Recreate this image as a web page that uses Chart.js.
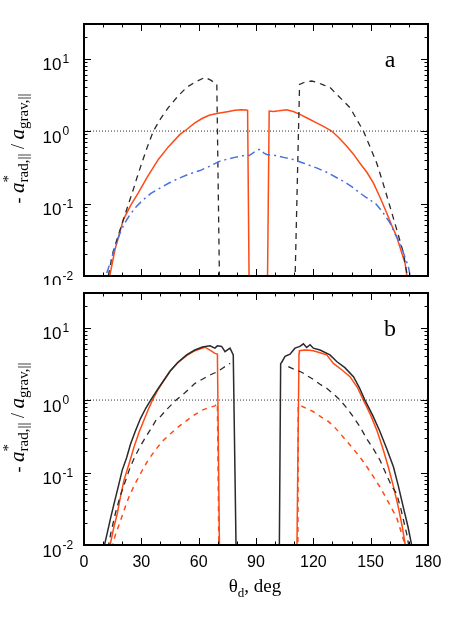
<!DOCTYPE html>
<html>
<head>
<meta charset="utf-8">
<script src="https://cdn.jsdelivr.net/npm/chart.js@4.4.1/dist/chart.umd.min.js"></script>
<style>
  html, body { margin: 0; padding: 0; background: #fff; }
  #wrapA { position: absolute; left: 0; top: 0; width: 452px; height: 285px; }
  #wrapB { position: absolute; left: 0; top: 285px; width: 452px; height: 348px; }
</style>
</head>
<body>
<div id="wrapA"><canvas id="panelA"></canvas></div>
<div id="wrapB"><canvas id="panelB"></canvas></div>
<script>
// axes
const xTicks = [0, 30, 60, 90, 120, 150, 180];
const yTicks = [0.01, 0.1, 1, 10];
const refX = [0, 180];
const refY = [1, 1];

// panel a: black dashed (two branches)
const aDashLeftX = [12.7, 14, 15.3, 18, 20.6, 23.2, 25.8, 28, 30.2, 33.3, 36.3, 40.2, 44.1, 49, 53.7, 58.5, 63.3, 66.5, 69.5, 70.9];
const aDashLeftY = [0.01, 0.015, 0.022, 0.037, 0.06, 0.097, 0.156, 0.24, 0.36, 0.62, 1.0, 1.5, 2.1, 3.0, 4.0, 4.8, 5.5, 5.0, 4.4, 0.008];
const aDashRightX = [110.4, 112.8, 116, 119.1, 122, 125.5, 128.7, 133.1, 139.2, 146.2, 149.5, 153.2, 156.5, 160.1, 163.6, 167.1, 169.2, 170];
const aDashRightY = [0.008, 4.4, 4.8, 4.9, 4.7, 4.3, 4.0, 3.05, 2.1, 1.0, 0.62, 0.36, 0.19, 0.091, 0.044, 0.021, 0.01, 0.008];

// panel a: red solid (two branches)
const aRedLeftX = [13.1, 16.2, 20.6, 24.5, 28.4, 33, 38.9, 44, 50.2, 53.7, 58, 62, 65.5, 67.7, 71, 75, 79, 82, 85, 85.6, 86.4];
const aRedLeftY = [0.009, 0.023, 0.06, 0.095, 0.14, 0.23, 0.406, 0.6, 0.9, 1.05, 1.3, 1.5, 1.65, 1.7, 1.78, 1.85, 1.93, 1.97, 1.95, 1.93, 0.008];
const aRedRightX = [96.0, 96.9, 99, 102, 106, 109.5, 113, 117, 121.7, 125.5, 129.6, 133.5, 137.4, 141, 144.4, 148, 151.4, 155, 158.4, 161, 163.6, 166, 168, 169.2];
const aRedRightY = [0.008, 1.89, 1.86, 1.9, 1.97, 1.86, 1.70, 1.5, 1.3, 1.15, 1.0, 0.8, 0.62, 0.48, 0.36, 0.27, 0.193, 0.12, 0.074, 0.05, 0.035, 0.022, 0.015, 0.009];

// panel a: blue dash-dot
const aBlueX = [11.9, 14, 15.3, 18.8, 21, 24, 27.6, 31, 35, 40, 45, 50, 55, 60.7, 65, 71.2, 75, 80, 83, 85.1, 86.5, 88.5, 90.4, 92.1, 94, 95.6, 100, 105, 109.5, 115, 121.7, 127, 133.9, 137.5, 141, 144, 147.9, 149.5, 150.5, 152.3, 156, 160.1, 163, 165.4, 168, 169.7, 170.7];
const aBlueY = [0.011, 0.016, 0.021, 0.039, 0.052, 0.07, 0.092, 0.113, 0.138, 0.165, 0.195, 0.225, 0.255, 0.285, 0.32, 0.385, 0.41, 0.44, 0.455, 0.466, 0.46, 0.5, 0.545, 0.56, 0.5, 0.475, 0.46, 0.43, 0.405, 0.36, 0.31, 0.27, 0.215, 0.19, 0.165, 0.142, 0.12, 0.117, 0.108, 0.102, 0.078, 0.054, 0.037, 0.028, 0.018, 0.0135, 0.01];

// panel b: black solid
const bBlackLeftX = [10.3, 12, 14, 15.7, 18, 20, 22.3, 24.4, 27, 29.6, 32.3, 34.9, 38.5, 41.9, 45, 49, 53.7, 58, 62, 65.9, 68.5, 69.8, 72, 73.8, 76.4, 78.1, 79.6];
const bBlackLeftY = [0.009, 0.014, 0.024, 0.037, 0.065, 0.108, 0.16, 0.25, 0.38, 0.56, 0.77, 1.0, 1.4, 1.89, 2.5, 3.3, 4.2, 4.9, 5.4, 5.6, 5.2, 5.6, 5.5, 4.66, 5.2, 4.2, 0.008];
const bBlackRightX = [102.2, 102.9, 103.4, 105.2, 107.8, 110.4, 113, 114.8, 116.5, 118.3, 120, 123.5, 128.7, 132.2, 136.5, 141, 144, 147, 151, 154.9, 158.5, 161.9, 164.5, 167.1, 169.5, 171.8];
const bBlackRightY = [0.008, 3.2, 3.3, 4.0, 4.3, 5.2, 5.5, 5.96, 5.3, 5.8, 5.2, 4.9, 4.2, 3.4, 2.8, 2.1, 1.5, 1.0, 0.62, 0.365, 0.21, 0.12, 0.065, 0.033, 0.018, 0.009];

// panel b: red solid
const bRedLeftX = [13.3, 15.7, 17.4, 19, 20.9, 23.5, 26.2, 28.8, 31.4, 33.5, 35.7, 38.8, 41.9, 45, 49, 53.7, 58, 63.3, 65.9, 68.5, 69.8, 70.9];
const bRedLeftY = [0.009, 0.018, 0.027, 0.045, 0.078, 0.13, 0.226, 0.36, 0.53, 0.73, 0.98, 1.4, 1.89, 2.5, 3.25, 4.1, 4.8, 5.36, 4.9, 4.4, 4.3, 0.008];
const bRedRightX = [111.4, 112.5, 112.7, 115.6, 118, 120, 123.5, 127, 130.5, 135, 139.2, 143, 146.2, 150, 153.2, 156.5, 159.2, 162, 164.5, 166.5, 168.4];
const bRedRightY = [0.008, 4.4, 4.8, 4.9, 4.85, 4.8, 4.5, 4.2, 3.2, 2.6, 2.1, 1.5, 1.0, 0.62, 0.385, 0.21, 0.12, 0.063, 0.033, 0.018, 0.009];

// panel b: black dashed
const bDashLeftX = [12.6, 14, 16.6, 19, 21.8, 24, 26.2, 29, 32.3, 35.5, 37.5, 39.2, 43, 48.2, 52.8, 58.1, 63.3, 66.5, 69.8, 72.5, 75.5, 76.5];
const bDashLeftY = [0.009, 0.0145, 0.0285, 0.048, 0.078, 0.115, 0.156, 0.22, 0.31, 0.42, 0.52, 0.56, 0.73, 1.0, 1.26, 1.7, 2.03, 2.25, 2.46, 2.75, 3.1, 3.2];
const bDashRightX = [106.9, 110, 113.9, 117, 120, 123.5, 125.2, 127, 130.5, 134, 138, 141, 144.4, 148, 151.5, 154.9, 158.5, 161, 163.6, 166, 168.9, 170.2];
const bDashRightY = [2.9, 2.65, 2.42, 2.15, 1.93, 1.65, 1.55, 1.45, 1.22, 1.0, 0.75, 0.58, 0.43, 0.29, 0.21, 0.148, 0.09, 0.065, 0.051, 0.03, 0.014, 0.009];

// panel b: red dashed
const bRedDashLeftX = [14.5, 16.5, 19.2, 21.3, 23.5, 26.5, 29.6, 33, 36.6, 41, 45.4, 50, 54.1, 58, 61.9, 65, 68.5, 69.8, 70.6];
const bRedDashLeftY = [0.009, 0.014, 0.022, 0.032, 0.046, 0.068, 0.097, 0.14, 0.193, 0.27, 0.346, 0.44, 0.53, 0.63, 0.727, 0.78, 0.83, 0.9, 0.008];
const bRedDashRightX = [111.9, 112.1, 114, 118.3, 120, 124.4, 127, 130.5, 134, 137.5, 141, 144.4, 148, 151.5, 154.9, 158, 161, 163.6, 166, 168, 168.8];
const bRedDashRightY = [0.008, 0.85, 0.82, 0.73, 0.69, 0.575, 0.53, 0.44, 0.346, 0.27, 0.21, 0.164, 0.12, 0.087, 0.063, 0.045, 0.032, 0.024, 0.015, 0.01, 0.008];

const SERIF = '"Liberation Serif", "Times New Roman", serif';
const SANS = '"Liberation Sans", Arial, sans-serif';
const RED = "#ff4a14";
const BLUE = "#4a70e0";
const DARK = "#2a2a2a";

function pts(xs, ys) {
  return xs.map((x, i) => ({ x: x, y: ys[i] }));
}

function line(xs, ys, color, dash, width) {
  return {
    data: pts(xs, ys),
    borderColor: color,
    borderWidth: width || 1.5,
    borderDash: dash || [],
    pointRadius: 0,
    tension: 0,
    fill: false,
  };
}

function refLine() {
  return line(refX, refY, "#333", [1, 2], 1);
}

// draw a run of text pieces along the baseline, returns nothing
function drawPieces(ctx, parts, startX, baseY) {
  let x = startX;
  parts.forEach((p) => {
    ctx.font = p.f;
    ctx.fillText(p.t, x, baseY + (p.dy || 0));
    if (!p.over) x += ctx.measureText(p.t).width;
  });
}

function piecesWidth(ctx, parts) {
  let w = 0;
  parts.forEach((p) => {
    ctx.font = p.f;
    if (!p.over) w += ctx.measureText(p.t).width;
  });
  return w;
}

const yTitleParts = [
  { t: "- ", f: "18px " + SERIF },
  { t: "a", f: "italic 21px " + SERIF },
  { t: "*", f: "15px " + SERIF, dy: -11, over: true },
  { t: "rad,||", f: "15px " + SERIF, dy: 4 },
  { t: " / ", f: "18px " + SERIF },
  { t: "a", f: "italic 21px " + SERIF },
  { t: "grav,||", f: "15px " + SERIF, dy: 4 },
];

const xTitleParts = [
  { t: "θ", f: "19px " + SERIF },
  { t: "d", f: "13px " + SERIF, dy: 5 },
  { t: ", deg", f: "19px " + SERIF },
];

const framePlugin = {
  id: "frame",
  afterDraw(chart, args, opts) {
    const ctx = chart.ctx;
    const a = chart.chartArea;
    const xs = chart.scales.x;
    const ys = chart.scales.y;
    ctx.save();
    ctx.strokeStyle = "#000";
    ctx.fillStyle = "#000";

    // inward ticks, x every 10 deg
    ctx.lineWidth = 1;
    ctx.beginPath();
    for (let v = 10; v < 180; v += 10) {
      const px = Math.round(xs.getPixelForValue(v)) + 0.5;
      const len = v % 30 === 0 ? 7 : 3.5;
      ctx.moveTo(px, a.bottom);
      ctx.lineTo(px, a.bottom - len);
      ctx.moveTo(px, a.top);
      ctx.lineTo(px, a.top + len);
    }
    // inward ticks, y log minor/major
    for (let e = -2; e <= 1; e++) {
      for (let k = 1; k <= 9; k++) {
        const v = k * Math.pow(10, e);
        if (v > ys.max) break;
        const py = Math.round(ys.getPixelForValue(v)) + 0.5;
        const len = k === 1 ? 7 : 3.5;
        ctx.moveTo(a.left, py);
        ctx.lineTo(a.left + len, py);
        ctx.moveTo(a.right, py);
        ctx.lineTo(a.right - len, py);
      }
    }
    ctx.stroke();

    // frame
    ctx.lineWidth = 2;
    ctx.strokeRect(a.left, a.top, a.right - a.left, a.bottom - a.top);

    // y tick labels 10^n
    ctx.textAlign = "left";
    ctx.textBaseline = "alphabetic";
    yTicks.forEach((v) => {
      const py = ys.getPixelForValue(v);
      const e = Math.round(Math.log10(v));
      ctx.font = "17px " + SANS;
      ctx.fillText("10", 42.5, py + 11.5);
      const w = ctx.measureText("10").width;
      ctx.font = "12px " + SANS;
      ctx.fillText(e < 0 ? "-" + Math.abs(e) : String(e), 42.5 + w + 1, py + 4);
    });

    // panel letter
    ctx.font = "24px " + SERIF;
    ctx.textAlign = "center";
    ctx.fillText(opts.letter, 390, a.top + 42.5);

    // rotated y title
    ctx.textAlign = "left";
    const cy = (a.top + a.bottom) / 2 - 1.5;
    const tw = piecesWidth(ctx, yTitleParts);
    ctx.save();
    ctx.translate(24, cy);
    ctx.rotate(-Math.PI / 2);
    drawPieces(ctx, yTitleParts, -tw / 2, 0);
    ctx.restore();

    // x title
    if (opts.xTitle) {
      const xw = piecesWidth(ctx, xTitleParts);
      drawPieces(ctx, xTitleParts, 255 - xw / 2, a.bottom + 47);
    }
    ctx.restore();
  },
};

function makePanel(id, datasets, letter, showX, xHeight, padTop) {
  return new Chart(document.getElementById(id), {
    type: "line",
    data: { datasets: datasets },
    plugins: [framePlugin],
    options: {
      responsive: true,
      maintainAspectRatio: false,
      animation: false,
      events: [],
      layout: { padding: { left: 0, right: 24, top: padTop, bottom: 0 } },
      scales: {
        x: {
          type: "linear",
          min: 0,
          max: 180,
          afterBuildTicks: (s) => {
            s.ticks = xTicks.map((v) => ({ value: v }));
          },
          afterFit: (s) => {
            s.height = xHeight;
          },
          grid: { display: false, drawTicks: false },
          border: { display: false },
          ticks: {
            display: showX,
            autoSkip: false,
            maxRotation: 0,
            padding: 8,
            color: "#000",
            font: { family: SANS, size: 16 },
          },
        },
        y: {
          type: "logarithmic",
          min: 0.01,
          max: 30,
          afterFit: (s) => {
            s.width = 84;
          },
          grid: { display: false, drawTicks: false },
          border: { display: false },
          ticks: { display: false },
        },
      },
      plugins: {
        legend: { display: false },
        tooltip: { enabled: false },
        frame: { letter: letter, xTitle: showX },
      },
    },
  });
}

makePanel(
  "panelA",
  [
    refLine(),
    line(aBlueX, aBlueY, BLUE, [8, 4, 2, 4]),
    line(aDashLeftX, aDashLeftY, DARK, [6, 5], 1.3),
    line(aDashRightX, aDashRightY, DARK, [6, 5], 1.3),
    line(aRedLeftX, aRedLeftY, RED),
    line(aRedRightX, aRedRightY, RED),
  ],
  "a",
  false,
  9,
  24
);

makePanel(
  "panelB",
  [
    refLine(),
    line(bDashLeftX, bDashLeftY, DARK, [6, 5], 1.3),
    line(bDashRightX, bDashRightY, DARK, [6, 5], 1.3),
    line(bRedDashLeftX, bRedDashLeftY, RED, [5, 5]),
    line(bRedDashRightX, bRedDashRightY, RED, [5, 5]),
    line(bBlackLeftX, bBlackLeftY, DARK),
    line(bBlackRightX, bBlackRightY, DARK),
    line(bRedLeftX, bRedLeftY, RED),
    line(bRedRightX, bRedRightY, RED),
  ],
  "b",
  true,
  88,
  8
);
</script>
</body>
</html>
